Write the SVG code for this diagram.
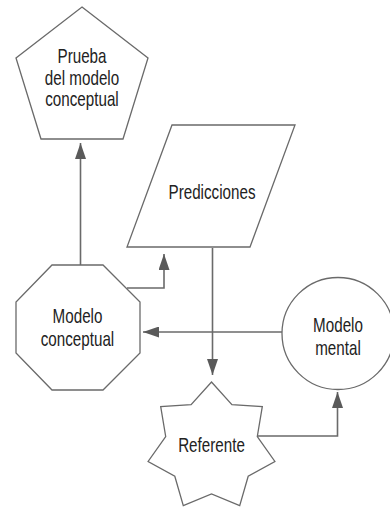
<svg xmlns="http://www.w3.org/2000/svg" width="390" height="508" viewBox="0 0 390 508">
  <defs>
    <marker id="arrow" markerUnits="userSpaceOnUse" markerWidth="16" markerHeight="11" refX="16" refY="5.5" orient="auto">
      <path d="M0,0 L16,5.5 L0,11 Z" fill="#5a5a5a"/>
    </marker>
    <style>
      .shape { fill: #ffffff; stroke: #6a6a6a; stroke-width: 1.3; }
      .link { fill: none; stroke: #6a6a6a; stroke-width: 1.6; marker-end: url(#arrow); }
      .label { font-family: "Liberation Sans", Arial, sans-serif; font-size: 20px; fill: #222222; text-anchor: middle; }
    </style>
  </defs>
  <rect width="390" height="508" fill="#ffffff"/>

  <!-- connectors -->
  <g id="connectors">
    <path class="link" d="M80.5,265 L80.5,143"/>
    <path class="link" d="M127,288 L164,288 L164,254"/>
    <path class="link" d="M212.5,248 L212.5,375"/>
    <path class="link" d="M282,332 L143,332"/>
    <path class="link" d="M257.3,436 L337.5,436 L337.5,392"/>
  </g>

  <!-- labels use a horizontally compressed sans to get a condensed face -->
  <g id="prueba">
    <polygon class="shape" points="82,7 148,58 123,139 41,139 16,58"/>
    <text class="label" transform="translate(82 63) scale(0.76 1)">Prueba</text>
    <text class="label" transform="translate(82 85) scale(0.76 1)">del modelo</text>
    <text class="label" transform="translate(82 106) scale(0.76 1)">conceptual</text>
  </g>

  <g id="predicciones">
    <polygon class="shape" points="172,125 295,125 250,247 127,247"/>
    <text class="label" transform="translate(212 199) scale(0.76 1)">Predicciones</text>
  </g>

  <g id="modelo-conceptual">
    <polygon class="shape" points="52,265 103,265 140,302 140,353 103,390 52,390 16,353 16,302"/>
    <text class="label" transform="translate(77.5 323) scale(0.76 1)">Modelo</text>
    <text class="label" transform="translate(77.5 346) scale(0.76 1)">conceptual</text>
  </g>

  <g id="modelo-mental">
    <circle class="shape" cx="338" cy="333.5" r="56"/>
    <text class="label" transform="translate(338 332) scale(0.76 1)">Modelo</text>
    <text class="label" transform="translate(338 355) scale(0.76 1)">mental</text>
  </g>

  <g id="referente">
    <polygon class="shape" points="211.5,382 231.9,404.7 262.3,406.5 257.3,436.5 274.9,461.5 248.2,476.3 239.7,505.6 211.5,494 183.3,505.6 174.8,476.3 148.1,461.5 165.7,436.5 160.7,406.5 191.1,404.7"/>
    <text class="label" transform="translate(211.5 452) scale(0.76 1)">Referente</text>
  </g>
</svg>
